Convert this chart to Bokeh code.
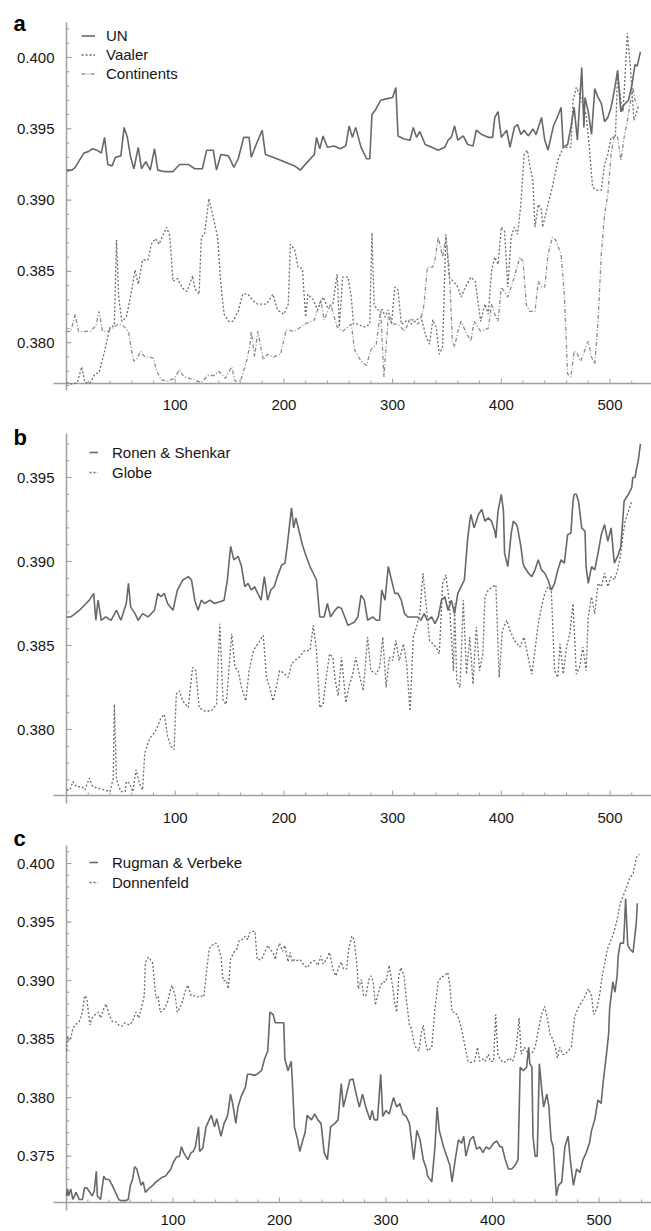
from bokeh.plotting import figure
from bokeh.layouts import column
from bokeh.models import Range1d, Legend, LegendItem
from bokeh.core.properties import value
from bokeh.embed import file_html
from bokeh.resources import INLINE

# ---------------- data: (index, value) ----------------
un = [(0,.3921),(5,.3921),(8,.3923),(12,.3928),(16,.3933),(20,.3934),(24,.3936),(28,.3935),(32,.3933),(35,.3944),(38,.3925),(42,.3924),(45,.3930),(50,.3931),(53,.3951),(56,.3944),(59,.3930),(62,.3922),(66,.3937),(69,.3922),(73,.3927),(77,.3921),(81,.3936),(84,.3921),(90,.3920),(98,.3920),(104,.3925),(112,.3925),(118,.3922),(125,.3922),(129,.3935),(135,.3935),(138,.3921),(142,.3932),(149,.3931),(154,.3923),(158,.3929),(163,.3944),(168,.3944),(170,.3930),(174,.3938),(180,.3949),(183,.3932),(190,.3930),(197,.3928),(203,.3926),(210,.3924),(215,.3921),(222,.3927),(228,.3932),(230,.3944),(233,.3936),(236,.3945),(240,.3937),(246,.3938),(252,.3936),(257,.3938),(260,.3952),(263,.3944),(266,.3951),(271,.3937),(276,.3929),(279,.3929),(281,.3960),(284,.3963),(289,.3970),(294,.3971),(300,.3972),(303,.3979),(305,.3945),(310,.3943),(316,.3942),(319,.3951),(322,.3944),(325,.3948),(330,.3939),(336,.3937),(342,.3935),(348,.3937),(351,.3942),(354,.3944),(357,.3952),(360,.3942),(365,.3945),(369,.3939),(374,.3938),(377,.3949),(382,.3946),(388,.3944),(392,.3944),(394,.3958),(397,.3962),(400,.3944),(405,.3949),(408,.3937),(412,.3951),(415,.3953),(418,.3946),(421,.3949),(425,.3945),(429,.3950),(432,.3946),(437,.3958),(440,.3942),(443,.3935),(448,.3952),(452,.3959),(455,.3965),(457,.3937),(461,.3939),(464,.3951),(467,.3965),(470,.3942),(474,.3993),(476,.3951),(477,.3972),(480,.3962),(483,.3946),(486,.3978),(489,.3972),(492,.3968),(495,.3955),(498,.3958),(501,.3965),(504,.3977),(507,.3991),(510,.3962),(513,.3967),(517,.3970),(520,.3980),(523,.3995),(525,.3994),(528,.4004)]

vaaler = [(0,.3772),(5,.3771),(10,.3772),(14,.3783),(17,.3772),(22,.3772),(26,.3778),(30,.3779),(35,.3794),(40,.3811),(44,.3812),(46,.3872),(48,.3832),(51,.3815),(55,.3818),(57,.3825),(60,.3837),(63,.3851),(66,.3841),(70,.3858),(75,.3858),(78,.3869),(82,.3873),(85,.3869),(88,.3874),(92,.3881),(95,.3875),(98,.3843),(102,.3845),(107,.3838),(111,.3836),(116,.3847),(118,.3838),(122,.3834),(124,.3874),(127,.3876),(131,.3901),(135,.3888),(139,.3874),(142,.3841),(145,.3820),(149,.3815),(153,.3815),(158,.3822),(162,.3834),(167,.3834),(171,.3830),(176,.3827),(184,.3827),(190,.3834),(194,.3823),(200,.3820),(204,.3827),(206,.3869),(210,.3865),(213,.3853),(217,.3852),(220,.3818),(222,.3834),(227,.3830),(231,.3823),(236,.3832),(240,.3825),(245,.3827),(249,.3848),(251,.3811),(254,.3846),(259,.3846),(262,.3832),(264,.3813),(268,.3813),(274,.3811),(279,.3813),(281,.3877),(283,.3827),(286,.3823),(291,.3823),(293,.3818),(296,.3823),(299,.3813),(302,.3839),(305,.3837),(308,.3813),(314,.3816),(317,.3813),(322,.3816),(326,.3818),(331,.3804),(334,.3799),(337,.3816),(340,.3811),(343,.3792),(346,.3797),(349,.3876),(352,.3846),(357,.3842),(360,.3839),(363,.3832),(367,.3839),(372,.3846),(376,.3843),(381,.3815),(385,.3827),(388,.3820),(391,.3850),(394,.3860),(397,.3855),(400,.3881),(403,.3878),(406,.3839),(409,.3874),(412,.3881),(415,.3876),(418,.3897),(421,.3932),(424,.3935),(426,.3925),(429,.3914),(431,.3881),(434,.3897),(437,.3893),(438,.3881),(443,.3897),(447,.3909),(452,.3928),(457,.3937),(461,.3937),(464,.3937),(466,.3970),(469,.3979),(472,.3974),(474,.3970),(478,.3960),(481,.3937),(484,.3909),(488,.3907),(492,.3907),(495,.3925),(498,.3932),(501,.3944),(505,.3944),(507,.3989),(510,.3970),(512,.3962),(516,.4017),(519,.3991),(522,.3956),(526,.3965)]

continents = [(0,.3808),(4,.3808),(8,.3820),(11,.3808),(17,.3808),(22,.3808),(27,.3812),(30,.3822),(33,.3808),(38,.3808),(42,.3810),(47,.3813),(52,.3812),(57,.3808),(60,.3794),(62,.3787),(65,.3789),(68,.3794),(72,.3790),(76,.3790),(80,.3789),(83,.3780),(87,.3774),(93,.3773),(99,.3775),(104,.3781),(108,.3776),(113,.3775),(118,.3774),(124,.3772),(130,.3777),(136,.3777),(140,.3780),(146,.3775),(152,.3783),(155,.3773),(160,.3773),(163,.3780),(166,.3788),(169,.3800),(170,.3808),(173,.3790),(176,.3808),(181,.3788),(185,.3792),(191,.3790),(197,.3792),(202,.3809),(210,.3808),(219,.3813),(228,.3816),(234,.3830),(237,.3816),(243,.3827),(249,.3811),(254,.3808),(262,.3813),(265,.3795),(271,.3787),(276,.3784),(280,.3795),(285,.3799),(289,.3823),(292,.3776),(296,.3818),(300,.3813),(305,.3813),(311,.3808),(316,.3816),(320,.3816),(323,.3813),(326,.3816),(329,.3827),(332,.3853),(337,.3853),(339,.3858),(342,.3874),(346,.3860),(349,.3874),(352,.3853),(355,.3801),(357,.3797),(360,.3808),(363,.3815),(367,.3808),(372,.3801),(375,.3815),(381,.3808),(388,.3810),(391,.3827),(394,.3820),(397,.3815),(400,.3839),(406,.3832),(412,.3846),(417,.3860),(420,.3857),(423,.3827),(426,.3822),(431,.3822),(434,.3843),(437,.3839),(440,.3839),(443,.3862),(447,.3874),(450,.3872),(455,.3862),(458,.3834),(461,.3778),(464,.3776),(467,.3794),(470,.3792),(473,.3787),(477,.3795),(480,.3801),(483,.3790),(486,.3785),(489,.3815),(492,.3862),(495,.3890),(498,.3904),(501,.3932),(504,.3946),(507,.3944),(510,.3928),(513,.3944),(516,.3956),(521,.3979),(523,.3970),(526,.3965)]

ronen_shenkar = [(0,.3867),(4,.3867),(8,.3869),(12,.3871),(18,.3875),(21,.3877),(25,.3881),(27,.3865),(29,.3877),(32,.3865),(36,.3867),(41,.3865),(46,.3871),(50,.3865),(55,.3875),(57,.3887),(59,.3873),(63,.3869),(66,.3865),(70,.3869),(75,.3867),(81,.3871),(84,.3881),(87,.3879),(90,.3881),(93,.3875),(98,.3871),(102,.3883),(107,.3889),(112,.3891),(115,.3889),(118,.3877),(121,.3871),(124,.3877),(127,.3875),(132,.3877),(136,.3875),(141,.3876),(145,.3877),(148,.3889),(151,.3909),(154,.3901),(158,.3903),(161,.3897),(164,.3885),(167,.3887),(170,.3883),(173,.3885),(176,.3881),(179,.3877),(182,.3891),(185,.3877),(188,.3883),(191,.3885),(194,.3891),(198,.3898),(201,.3899),(203,.3909),(207,.3932),(209,.3920),(211,.3926),(214,.3918),(217,.3910),(220,.3904),(224,.3897),(227,.3893),(230,.3889),(233,.3867),(237,.3867),(240,.3875),(243,.3867),(247,.3871),(250,.3873),(253,.3872),(256,.3867),(259,.3862),(265,.3864),(268,.3867),(271,.3880),(274,.3877),(277,.3865),(282,.3867),(285,.3865),(288,.3865),(290,.3883),(293,.3877),(296,.3897),(299,.3889),(302,.3881),(305,.3881),(308,.3877),(311,.3869),(314,.3867),(319,.3867),(323,.3867),(326,.3865),(329,.3869),(332,.3865),(336,.3867),(339,.3863),(342,.3867),(345,.3877),(348,.3879),(351,.3871),(354,.3877),(357,.3869),(360,.3881),(363,.3885),(366,.3889),(369,.3913),(371,.3924),(372,.3928),(375,.3920),(379,.3928),(382,.3931),(385,.3924),(388,.3926),(391,.3924),(394,.3918),(395,.3914),(397,.3930),(400,.3940),(402,.3930),(403,.3905),(406,.3897),(409,.3916),(411,.3924),(414,.3922),(415,.3920),(418,.3909),(420,.3899),(421,.3897),(425,.3893),(428,.3891),(431,.3895),(434,.3901),(437,.3895),(440,.3893),(443,.3889),(446,.3883),(449,.3887),(452,.3895),(455,.3901),(458,.3899),(461,.3916),(464,.3917),(466,.3936),(467,.3940),(469,.3940),(471,.3936),(474,.3920),(477,.3918),(478,.3897),(480,.3887),(483,.3897),(486,.3895),(489,.3905),(492,.3916),(495,.3922),(498,.3912),(501,.3920),(504,.3899),(507,.3903),(510,.3909),(513,.3936),(517,.3940),(520,.3944),(521,.3950),(523,.3950),(524,.3954),(526,.3960),(528,.3970)]

globe = [(0,.3764),(3,.3764),(6,.3769),(9,.3766),(14,.3766),(17,.3764),(21,.3771),(24,.3766),(29,.3765),(35,.3764),(40,.3763),(43,.3771),(44,.3815),(46,.3770),(50,.3763),(54,.3763),(55,.3769),(58,.3768),(61,.3763),(64,.3776),(67,.3768),(70,.3764),(72,.3786),(75,.3792),(78,.3796),(81,.3798),(84,.3802),(87,.3807),(90,.3809),(93,.3796),(96,.3790),(99,.3788),(101,.3821),(104,.3823),(107,.3817),(112,.3813),(116,.3837),(119,.3835),(122,.3813),(127,.3811),(133,.3811),(138,.3815),(141,.3863),(144,.3817),(147,.3815),(152,.3857),(155,.3837),(158,.3835),(161,.3825),(165,.3817),(168,.3835),(172,.3847),(176,.3851),(181,.3856),(184,.3831),(187,.3825),(190,.3817),(193,.3825),(196,.3835),(199,.3834),(204,.3831),(207,.3839),(210,.3841),(214,.3843),(219,.3847),(224,.3847),(227,.3862),(230,.3847),(233,.3813),(236,.3815),(239,.3831),(242,.3845),(245,.3843),(247,.3830),(250,.3820),(253,.3843),(257,.3816),(260,.3826),(263,.3832),(266,.3843),(270,.3831),(273,.3823),(277,.3855),(280,.3835),(285,.3833),(288,.3837),(291,.3855),(294,.3825),(297,.3843),(300,.3841),(303,.3853),(306,.3841),(310,.3851),(313,.3839),(316,.3811),(319,.3855),(322,.3861),(325,.3869),(328,.3893),(331,.3873),(334,.3853),(337,.3851),(340,.3849),(343,.3845),(346,.3887),(349,.3892),(352,.3877),(356,.3835),(357,.3875),(359,.3829),(362,.3825),(365,.3877),(368,.3833),(371,.3855),(374,.3827),(377,.3861),(380,.3835),(383,.3845),(385,.3879),(388,.3883),(392,.3885),(395,.3886),(398,.3831),(401,.3859),(405,.3865),(408,.3859),(412,.3853),(417,.3849),(421,.3855),(424,.3845),(428,.3833),(431,.3847),(434,.3863),(437,.3873),(440,.3881),(443,.3885),(446,.3883),(449,.3835),(452,.3831),(454,.3851),(457,.3833),(460,.3849),(463,.3857),(466,.3875),(469,.3833),(472,.3837),(475,.3849),(478,.3835),(480,.3867),(483,.3879),(486,.3869),(489,.3887),(492,.3885),(495,.3893),(498,.3885),(501,.3891),(504,.3889),(507,.3895),(510,.3905),(512,.3916),(514,.3924),(517,.3930),(520,.3936)]

rugman_verbeke = [(0,.3716),(1,.3722),(2,.3716),(4,.3722),(6,.3713),(9,.3719),(12,.3713),(15,.3713),(17,.3723),(19,.3723),(22,.3719),(24,.3716),(26,.3720),(28,.3737),(29,.3716),(32,.3713),(35,.3733),(37,.3730),(40,.3730),(43,.3725),(46,.3719),(49,.3713),(51,.3712),(55,.3712),(58,.3713),(60,.3725),(62,.3730),(64,.3741),(66,.3739),(70,.3725),(72,.3728),(74,.3719),(77,.3722),(81,.3725),(84,.3728),(87,.3730),(90,.3732),(93,.3733),(98,.3739),(100,.3744),(103,.3749),(106,.3750),(108,.3758),(110,.3753),(114,.3747),(117,.3753),(119,.3754),(121,.3758),(124,.3775),(125,.3754),(128,.3757),(131,.3775),(134,.3781),(136,.3785),(139,.3775),(141,.3782),(143,.3775),(145,.3767),(148,.3778),(151,.3784),(152,.3789),(154,.3803),(156,.3795),(159,.3778),(161,.3792),(164,.3801),(165,.3803),(168,.3809),(170,.3820),(173,.3820),(176,.3819),(179,.3820),(183,.3823),(186,.3833),(189,.3840),(191,.3873),(194,.3871),(196,.3864),(198,.3864),(201,.3864),(204,.3864),(205,.3833),(208,.3823),(211,.3831),(212,.3815),(214,.3775),(217,.3764),(219,.3754),(222,.3764),(224,.3770),(226,.3785),(230,.3781),(233,.3786),(236,.3781),(239,.3778),(242,.3753),(245,.3747),(248,.3775),(252,.3778),(255,.3781),(258,.3812),(260,.3792),(263,.3803),(266,.3815),(269,.3816),(272,.3803),(275,.3792),(278,.3803),(281,.3792),(285,.3781),(287,.3789),(289,.3781),(292,.3781),(295,.3820),(297,.3784),(300,.3789),(303,.3786),(307,.3800),(310,.3792),(313,.3795),(316,.3786),(319,.3784),(322,.3778),(326,.3747),(329,.3772),(332,.3764),(335,.3747),(338,.3739),(339,.3733),(343,.3728),(346,.3758),(348,.3792),(350,.3772),(354,.3758),(357,.3750),(360,.3742),(362,.3728),(365,.3747),(368,.3764),(371,.3761),(373,.3767),(375,.3750),(379,.3764),(382,.3767),(385,.3756),(388,.3758),(391,.3753),(394,.3758),(397,.3756),(401,.3761),(404,.3763),(407,.3758),(409,.3758),(412,.3747),(415,.3739),(418,.3739),(421,.3742),(424,.3747),(426,.3826),(429,.3823),(432,.3826),(434,.3843),(435,.3829),(437,.3826),(438,.3767),(440,.3750),(442,.3750),(444,.3829),(446,.3809),(448,.3792),(451,.3803),(453,.3792),(455,.3764),(457,.3758),(460,.3716),(462,.3725),(465,.3728),(468,.3758),(471,.3767),(473,.3747),(476,.3725),(479,.3739),(482,.3736),(485,.3747),(488,.3753),(491,.3761),(493,.3772),(496,.3781),(499,.3798),(502,.3795),(504,.3814),(507,.3837),(509,.3854),(510,.3876),(513,.3899),(515,.3890),(517,.3904),(518,.3921),(520,.3932),(523,.3932),(524,.3949),(525,.3970),(527,.3930),(529,.3927),(532,.3924),(535,.3949),(536,.3966)]

donnenfeld = [(0,.3840),(1,.3853),(2,.3848),(4,.3851),(6,.3859),(8,.3862),(12,.3865),(15,.3873),(17,.3887),(19,.3885),(22,.3862),(24,.3868),(27,.3871),(30,.3873),(32,.3868),(35,.3876),(37,.3880),(40,.3871),(43,.3865),(46,.3865),(49,.3862),(52,.3861),(55,.3864),(59,.3862),(62,.3865),(65,.3873),(68,.3868),(71,.3879),(73,.3887),(74,.3915),(77,.3920),(81,.3915),(82,.3904),(84,.3885),(86,.3887),(88,.3873),(92,.3876),(95,.3882),(97,.3890),(99,.3896),(102,.3887),(104,.3873),(106,.3876),(109,.3882),(111,.3890),(114,.3896),(117,.3887),(120,.3887),(123,.3886),(126,.3887),(129,.3886),(131,.3904),(134,.3927),(136,.3930),(139,.3931),(140,.3932),(142,.3930),(145,.3921),(147,.3900),(150,.3900),(152,.3893),(154,.3918),(157,.3924),(160,.3927),(162,.3934),(165,.3935),(168,.3938),(170,.3935),(172,.3941),(175,.3942),(177,.3942),(179,.3918),(183,.3918),(186,.3924),(189,.3930),(191,.3927),(194,.3924),(196,.3918),(198,.3927),(200,.3932),(203,.3925),(205,.3930),(208,.3916),(210,.3924),(212,.3916),(214,.3918),(216,.3917),(219,.3918),(221,.3916),(223,.3913),(226,.3911),(230,.3916),(233,.3917),(236,.3913),(239,.3921),(241,.3914),(244,.3918),(247,.3924),(250,.3910),(253,.3904),(255,.3910),(258,.3916),(260,.3910),(263,.3910),(265,.3927),(268,.3938),(270,.3935),(273,.3910),(274,.3893),(277,.3901),(279,.3887),(281,.3887),(284,.3901),(286,.3904),(288,.3899),(290,.3879),(292,.3887),(295,.3896),(297,.3899),(300,.3899),(303,.3913),(306,.3896),(308,.3882),(310,.3873),(312,.3904),(314,.3911),(317,.3904),(319,.3885),(322,.3862),(324,.3859),(326,.3848),(328,.3843),(331,.3840),(333,.3854),(335,.3862),(337,.3848),(339,.3840),(343,.3843),(346,.3876),(349,.3899),(352,.3903),(355,.3904),(358,.3907),(360,.3896),(362,.3873),(365,.3873),(368,.3868),(370,.3862),(372,.3854),(375,.3840),(377,.3831),(380,.3830),(383,.3831),(386,.3843),(388,.3831),(391,.3833),(393,.3831),(396,.3837),(398,.3831),(401,.3831),(403,.3871),(405,.3837),(407,.3833),(410,.3830),(413,.3831),(416,.3834),(419,.3831),(422,.3840),(425,.3868),(427,.3837),(430,.3843),(434,.3837),(437,.3838),(440,.3843),(443,.3857),(446,.3871),(449,.3878),(452,.3865),(454,.3854),(456,.3851),(459,.3843),(461,.3834),(463,.3843),(466,.3837),(468,.3837),(471,.3840),(474,.3843),(477,.3868),(480,.3876),(484,.3882),(487,.3887),(490,.3893),(493,.3887),(495,.3871),(498,.3876),(501,.3890),(503,.3904),(506,.3918),(508,.3927),(510,.3932),(514,.3941),(517,.3952),(520,.3966),(526,.3980),(529,.3988),(532,.3991),(535,.4005),(538,.4008)]

panel_letters = ["a", "b", "c"]
legend_a = ["UN", "Vaaler", "Continents"]
legend_b = ["Ronen & Shenkar", "Globe"]
legend_c = ["Rugman & Verbeke", "Donnenfeld"]
x_major = [100, 200, 300, 400, 500]
y_major_a = [0.380, 0.385, 0.390, 0.395, 0.400]
y_major_b = [0.380, 0.385, 0.390, 0.395]
y_major_c = [0.375, 0.380, 0.385, 0.390, 0.395, 0.400]

# ---------------- style / geometry (page pixels) ----------------
FONT = "Liberation Sans"
AXIS = "#a0a0a0"
SOLID = "#686868"
DOT = "#6c6c6c"
DASHDOT = "#8e8e8e"
TXT = "#161616"
W = 651
X0_PX = 66          # page x of the vertical axis (index 0)
RIGHT_PX = 651


def make_panel(letter, top, height, yref_px, yref, yppu, xppu, yaxis_top, yaxis_bot,
               xaxis_px, xlab_base, letter_base, y_major, y_minor_lo, y_minor_hi, x_minor_hi,
               legend_loc, glyph_w, label_gap, row_h, series):
    def yv(py):
        return yref - (py - yref_px) / yppu

    def xv(px):
        return (px - X0_PX) / xppu

    p = figure(width=W, height=height,
               x_range=Range1d(xv(0), xv(RIGHT_PX)),
               y_range=Range1d(yv(top + height), yv(top)),
               x_axis_location=None, y_axis_location=None,
               output_backend="svg", toolbar_location=None,
               min_border_left=0, min_border_right=0, min_border_top=0, min_border_bottom=0)
    p.outline_line_color = None
    p.grid.visible = False
    p.background_fill_color = "white"
    p.border_fill_color = "white"

    # --- axes drawn in the Mathematica style (crossing at the origin) ---
    ax_y = yv(xaxis_px)
    p.segment(x0=[xv(53)], y0=[ax_y], x1=[xv(RIGHT_PX)], y1=[ax_y],
              line_color=AXIS, line_width=1.5)
    p.segment(x0=[0], y0=[yv(yaxis_bot)], x1=[0], y1=[yv(yaxis_top)],
              line_color=AXIS, line_width=1.5)

    y_minor = [round(y_minor_lo + 0.001 * i, 3)
               for i in range(int(round((y_minor_hi - y_minor_lo) / 0.001)) + 1)]
    x_minor = [v for v in range(20, x_minor_hi + 1, 20) if v % 100]
    major_len_x = 5 / xppu
    minor_len_x = 3 / xppu
    major_len_y = 5 / yppu
    minor_len_y = 3 / yppu
    p.segment(x0=[0] * len(y_major), y0=y_major, x1=[major_len_x] * len(y_major), y1=y_major,
              line_color=AXIS, line_width=1)
    p.segment(x0=[0] * len(y_minor), y0=y_minor, x1=[minor_len_x] * len(y_minor), y1=y_minor,
              line_color=AXIS, line_width=1)
    p.segment(x0=x_major, y0=[ax_y] * len(x_major), x1=x_major,
              y1=[ax_y + major_len_y] * len(x_major), line_color=AXIS, line_width=1)
    p.segment(x0=x_minor, y0=[ax_y] * len(x_minor), x1=x_minor,
              y1=[ax_y + minor_len_y] * len(x_minor), line_color=AXIS, line_width=1)

    # tick labels
    p.text(x=[xv(54)] * len(y_major), y=y_major, text=["%.3f" % v for v in y_major],
           text_align="right", text_baseline="middle", text_font=value(FONT),
           text_font_size="15px", text_color=TXT)
    p.text(x=x_major, y=[yv(xlab_base)] * len(x_major), text=[str(v) for v in x_major],
           text_align="center", text_baseline="alphabetic", text_font=value(FONT),
           text_font_size="15px", text_color=TXT)

    # panel letter
    p.text(x=[xv(13)], y=[yv(letter_base)], text=[letter], text_align="left",
           text_baseline="alphabetic", text_font=value(FONT), text_font_size="22px",
           text_font_style="bold", text_color="black")

    # series (solid one last so it lies on top)
    rs = {}
    for pts, name, color, width, dash in series[1:] + series[:1]:
        xs = [q[0] for q in pts]
        ys = [q[1] for q in pts]
        rs[name] = p.line(xs, ys, line_color=color, line_width=width, line_dash=dash)
    items = [LegendItem(label=s[1], renderers=[rs[s[1]]]) for s in series]

    leg = Legend(items=items, location=legend_loc, padding=0, spacing=0, margin=0,
                 glyph_width=glyph_w, glyph_height=row_h, label_height=row_h,
                 label_standoff=label_gap, border_line_color=None,
                 background_fill_alpha=0, label_text_font=FONT,
                 label_text_font_size="15px", label_text_color=TXT)
    p.add_layout(leg)
    return p


pa = make_panel(panel_letters[0], 0, 416, 57, 0.400, 14260, 1.087, 22, 390, 383, 404.5, 23,
                y_major_a, 0.377, 0.402, 520, (81, 333), 14, 11, 19,
                [(un, legend_a[0], SOLID, 1.6, "solid"),
                 (vaaler, legend_a[1], DOT, 1.3, "2 2"),
                 (continents, legend_a[2], DASHDOT, 1.3, "4 2 1 2")])

pb = make_panel(panel_letters[1], 416, 409, 477, 0.395, 16800, 1.087, 433, 803, 795, 817, 437,
                y_major_b, 0.377, 0.397, 520, (89, 343), 9, 14, 20,
                [(ronen_shenkar, legend_b[0], SOLID, 1.6, "solid"),
                 (globe, legend_b[1], DOT, 1.3, "2 2")])

pc = make_panel(panel_letters[2], 825, 406, 863, 0.400, 11705.8, 1.065, 845, 1210, 1202, 1219.5, 838,
                y_major_c, 0.372, 0.401, 540, (89, 339), 9, 14, 20,
                [(rugman_verbeke, legend_c[0], SOLID, 1.6, "solid"),
                 (donnenfeld, legend_c[1], DOT, 1.3, "2 2")])

layout = column(pa, pb, pc, spacing=0)
open("out.html", "w").write(file_html(layout, INLINE, "chart"))
